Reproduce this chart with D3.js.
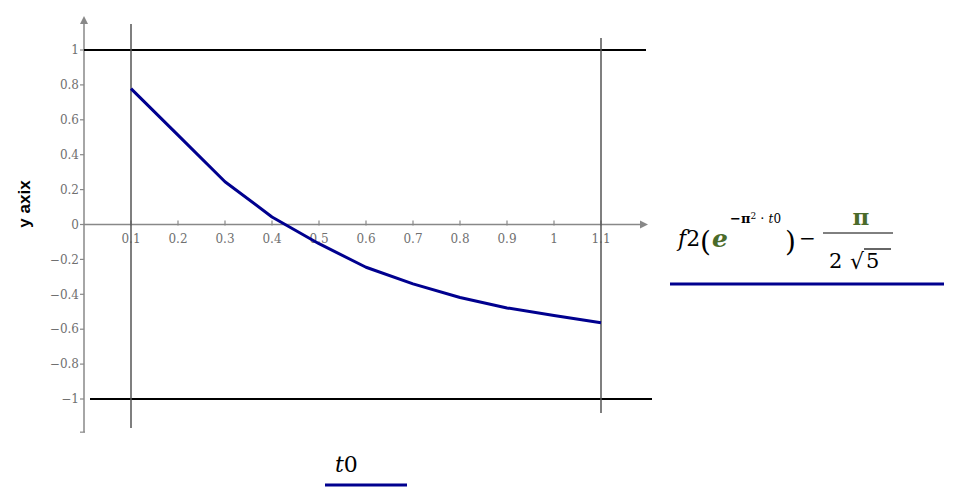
<!DOCTYPE html>
<html>
<head>
<meta charset="utf-8">
<script src="https://cdn.jsdelivr.net/npm/d3@7"></script>
<style>
  html, body { margin: 0; padding: 0; background: #fff; }
  svg { display: block; }
</style>
</head>
<body>
<svg id="chart" width="955" height="498"></svg>
<script>
// ---- data ----
const t0Values = [0.1, 0.2, 0.3, 0.4, 0.5, 0.6, 0.7, 0.8, 0.9, 1.0, 1.1];
const yValues  = [0.779, 0.512, 0.245, 0.043, -0.11, -0.245, -0.34, -0.418, -0.478, -0.522, -0.563];
const xTicks = [0.1, 0.2, 0.3, 0.4, 0.5, 0.6, 0.7, 0.8, 0.9, 1, 1.1];
const yTicks = [1, 0.8, 0.6, 0.4, 0.2, 0, -0.2, -0.4, -0.6, -0.8, -1];
const hLines = [1, -1];          // horizontal markers
const vLines = [0.1, 1.1];       // vertical markers
const xLabel = "t0";
const yLabel = "y axix";

const svg = d3.select("#chart");
const x = d3.scaleLinear().domain([0, 1.1]).range([84, 601]);
const y = d3.scaleLinear().domain([-1, 1]).range([399, 50]);

const axisColor = "#888";
const serif = "DejaVu Serif, serif";

// y axis line + arrow
svg.append("line").attr("x1", x(0)).attr("x2", x(0))
  .attr("y1", y(-1.19)).attr("y2", 22)
  .attr("stroke", axisColor).attr("stroke-width", 1.5);
svg.append("path")
  .attr("d", `M${x(0)-4},24 L${x(0)+4},24 L${x(0)},16 Z`)
  .attr("fill", axisColor);
svg.append("line").attr("x1", x(0)-4).attr("x2", x(0)+1)
  .attr("y1", y(-1.19)).attr("y2", y(-1.19))
  .attr("stroke", axisColor).attr("stroke-width", 1.2);

// x axis line + arrow
svg.append("line").attr("x1", x(0)).attr("x2", 642)
  .attr("y1", y(0)).attr("y2", y(0))
  .attr("stroke", axisColor).attr("stroke-width", 1.5);
svg.append("path")
  .attr("d", `M640,${y(0)-4} L640,${y(0)+4} L648,${y(0)} Z`)
  .attr("fill", axisColor);

const fmt = v => (v < 0 ? "\u2212" : "") + String(Math.abs(v));

// y ticks
const yt = svg.append("g");
yt.selectAll("line").data(yTicks).join("line")
  .attr("x1", x(0) - 4).attr("x2", x(0))
  .attr("y1", d => y(d)).attr("y2", d => y(d))
  .attr("stroke", axisColor).attr("stroke-width", 1.2);
yt.selectAll("text").data(yTicks).join("text")
  .attr("x", x(0) - 5).attr("y", d => y(d))
  .attr("dy", "0.35em")
  .attr("text-anchor", "end")
  .attr("font-family", serif).attr("font-size", 12)
  .attr("fill", "#707070")
  .text(fmt);

// x ticks
const xt = svg.append("g");
xt.selectAll("line").data(xTicks).join("line")
  .attr("x1", d => x(d)).attr("x2", d => x(d))
  .attr("y1", y(0) - 4).attr("y2", y(0) + 1)
  .attr("stroke", axisColor).attr("stroke-width", 1.2);
xt.selectAll("text").data(xTicks).join("text")
  .attr("x", d => x(d)).attr("y", y(0) + 14)
  .attr("dy", "0.35em")
  .attr("text-anchor", "middle")
  .attr("font-family", serif).attr("font-size", 12)
  .attr("fill", "#707070")
  .text(fmt);

// horizontal marker lines
svg.append("line").attr("x1", x(0)).attr("x2", 646)
  .attr("y1", y(hLines[0])).attr("y2", y(hLines[0]))
  .attr("stroke", "#000").attr("stroke-width", 2);
svg.append("line").attr("x1", 90).attr("x2", 652)
  .attr("y1", y(hLines[1])).attr("y2", y(hLines[1]))
  .attr("stroke", "#000").attr("stroke-width", 2);

// vertical marker lines
svg.append("line").attr("x1", x(vLines[0])).attr("x2", x(vLines[0]))
  .attr("y1", 24).attr("y2", 428)
  .attr("stroke", "#555").attr("stroke-width", 1.5);
svg.append("line").attr("x1", x(vLines[1])).attr("x2", x(vLines[1]))
  .attr("y1", 38).attr("y2", 413)
  .attr("stroke", "#555").attr("stroke-width", 1.5);

// curve
const lineGen = d3.line().x((d, i) => x(t0Values[i])).y(d => y(d));
svg.append("path").datum(yValues)
  .attr("d", lineGen)
  .attr("fill", "none")
  .attr("stroke", "#00008f")
  .attr("stroke-width", 3)
  .attr("stroke-linejoin", "round");

// y axis label
svg.append("text")
  .attr("transform", "translate(30,204) rotate(-90)")
  .attr("text-anchor", "middle")
  .attr("font-family", "Liberation Sans, Arial, sans-serif")
  .attr("font-weight", "bold").attr("font-size", 17)
  .attr("fill", "#000")
  .text(yLabel);

// x legend
svg.append("text").attr("x", 335).attr("y", 472)
  .attr("font-family", serif).attr("font-size", 22)
  .attr("fill", "#000")
  .html('<tspan font-style="italic">t</tspan>0');
svg.append("line").attr("x1", 325).attr("x2", 407)
  .attr("y1", 485).attr("y2", 485)
  .attr("stroke", "#00008f").attr("stroke-width", 3);

// y legend formula
const green = "#4a6b2a";
const f = svg.append("g").attr("font-family", serif).attr("fill", "#000");
f.append("text").attr("x", 678).attr("y", 246).attr("font-size", 22)
  .html('<tspan font-style="italic">f</tspan>2');
f.append("text").attr("x", 700).attr("y", 251).attr("font-size", 28)
  .attr("font-weight", "200").text("(");
f.append("text").attr("x", 712).attr("y", 247).attr("font-size", 25)
  .attr("font-weight", "bold").attr("font-style", "italic").attr("fill", green).text("e");
f.append("text").attr("x", 730).attr("y", 223).attr("font-size", 13)
  .html('<tspan font-weight="bold">\u2212\u03C0</tspan><tspan font-size="9" dy="-4">2</tspan><tspan dy="4"> \u00B7 </tspan><tspan font-style="italic" font-size="12">t</tspan><tspan font-size="12">0</tspan>');
f.append("text").attr("x", 785).attr("y", 251).attr("font-size", 28).text(")");
f.append("text").attr("x", 799).attr("y", 245).attr("font-size", 20).text("\u2212");
f.append("text").attr("x", 861).attr("y", 225).attr("font-size", 23)
  .attr("text-anchor", "middle").attr("font-weight", "bold").attr("fill", green).text("\u03C0");
f.append("line").attr("x1", 823).attr("x2", 893).attr("y1", 233).attr("y2", 233)
  .attr("stroke", "#000").attr("stroke-width", 1);
f.append("text").attr("x", 829).attr("y", 268).attr("font-size", 21).text("2");
f.append("text").attr("x", 850).attr("y", 269).attr("font-size", 22).text("\u221A");
f.append("line").attr("x1", 864).attr("x2", 891).attr("y1", 249).attr("y2", 249)
  .attr("stroke", "#000").attr("stroke-width", 1.2);
f.append("text").attr("x", 866).attr("y", 268).attr("font-size", 21).text("5");
svg.append("line").attr("x1", 670).attr("x2", 944)
  .attr("y1", 284).attr("y2", 284)
  .attr("stroke", "#00008f").attr("stroke-width", 3);
</script>
</body>
</html>
